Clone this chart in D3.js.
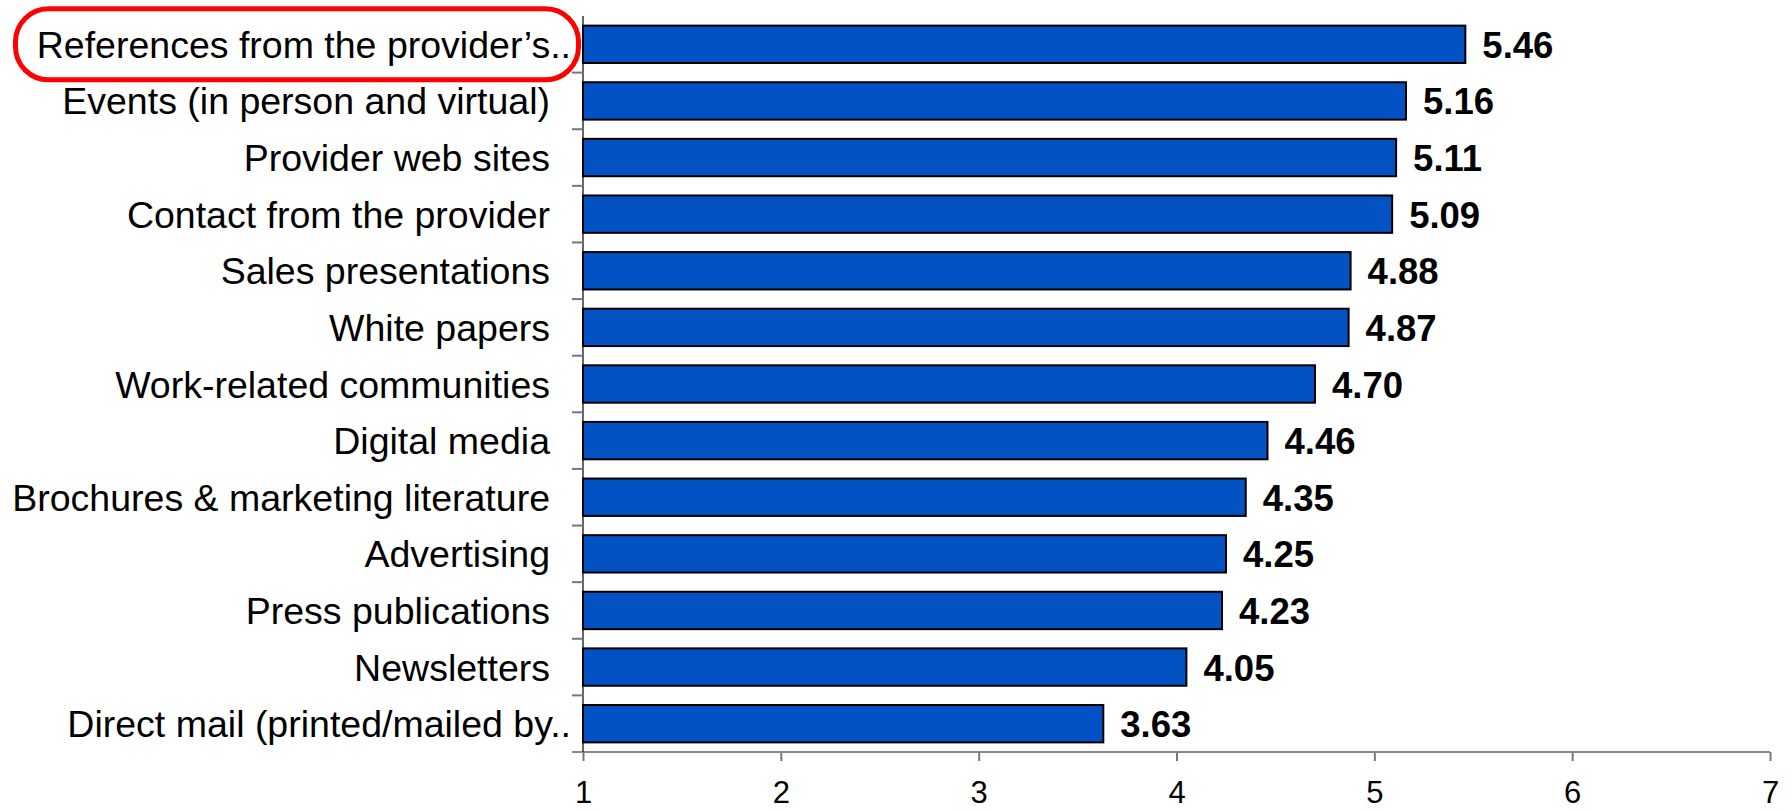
<!DOCTYPE html>
<html lang="en">

<head>
    <meta charset="UTF-8">
    <title>Source ratings</title>
    <style>
        body { margin: 0; background: #fff; }
        svg { display: block; font-family: 'Liberation Sans', Arial, sans-serif; }
    </style>
</head>

<body>
    <script src="https://cdn.jsdelivr.net/npm/d3@7"></script>
    <script>
        const svg_w = 1791;
        const svg_h = 811;

        const categories = [
            'References from the provider’s..',
            'Events (in person and virtual)',
            'Provider web sites',
            'Contact from the provider',
            'Sales presentations',
            'White papers',
            'Work-related communities',
            'Digital media',
            'Brochures & marketing literature',
            'Advertising',
            'Press publications',
            'Newsletters',
            'Direct mail (printed/mailed by..'
        ];
        const scores = [5.46, 5.16, 5.11, 5.09, 4.88, 4.87, 4.70, 4.46, 4.35, 4.25, 4.23, 4.05, 3.63];
        const x_ticks = [1, 2, 3, 4, 5, 6, 7];
        const highlighted = 'References from the provider’s..';

        const rows = categories.map((c, i) => ({ cat: c, val: scores[i] }));

        const svg = d3.select('body')
            .append('svg')
            .attr('width', svg_w)
            .attr('height', svg_h);

        const x = d3.scaleLinear().domain([1, 7]).range([583, 1770]);
        const y = d3.scaleBand()
            .domain(categories)
            .range([16, 752])
            .paddingInner(0.34)
            .paddingOuter(0.17);

        // x axis
        const xAxis = svg.append('g')
            .attr('transform', `translate(0,${y.range()[1]})`)
            .call(d3.axisBottom(x).tickValues(x_ticks).tickSize(9).tickSizeOuter(0).tickPadding(20).tickFormat(d3.format('d')));
        xAxis.select('.domain').remove();
        xAxis.selectAll('.tick line').attr('stroke', '#777').attr('stroke-width', 2);
        xAxis.selectAll('.tick text')
            .attr('font-size', '31px')
            .attr('fill', '#000')
            .attr('font-family', "'Liberation Sans', Arial, sans-serif");
        svg.append('line')
            .attr('x1', x(1) - 11).attr('x2', x(7))
            .attr('y1', y.range()[1]).attr('y2', y.range()[1])
            .attr('stroke', '#888').attr('stroke-width', 2);

        // y axis line and ticks between categories
        const gap = (y.step() - y.bandwidth()) / 2;
        svg.append('line')
            .attr('x1', x(1)).attr('x2', x(1))
            .attr('y1', y.range()[0]).attr('y2', y.range()[1])
            .attr('stroke', '#333').attr('stroke-width', 1.5);
        svg.selectAll('.ytick')
            .data(categories.slice(1))
            .enter()
            .append('line')
            .attr('class', 'ytick')
            .attr('x1', x(1) - 11).attr('x2', x(1))
            .attr('y1', d => y(d) - gap).attr('y2', d => y(d) - gap)
            .attr('stroke', '#777').attr('stroke-width', 2);

        // category labels
        svg.selectAll('.cat')
            .data(rows)
            .enter()
            .append('text')
            .attr('class', 'cat')
            .text(d => d.cat)
            .attr('x', d => d.cat.endsWith('..') ? x(1) - 12 : x(1) - 33)
            .attr('y', d => y(d.cat) + y.bandwidth() / 2)
            .attr('dy', '0.36em')
            .attr('text-anchor', 'end')
            .attr('font-size', '37.5px')
            .attr('fill', '#000');

        // bars
        svg.selectAll('.bar')
            .data(rows)
            .enter()
            .append('rect')
            .attr('class', 'bar')
            .attr('x', x(1))
            .attr('y', d => y(d.cat))
            .attr('width', d => x(d.val) - x(1))
            .attr('height', y.bandwidth())
            .attr('fill', '#0252c4')
            .attr('stroke', '#000')
            .attr('stroke-width', 2);

        // value labels
        svg.selectAll('.val')
            .data(rows)
            .enter()
            .append('text')
            .attr('class', 'val')
            .text(d => d.val.toFixed(2))
            .attr('x', d => x(d.val) + 17)
            .attr('y', d => y(d.cat) + y.bandwidth() / 2)
            .attr('dy', '0.37em')
            .attr('font-size', '36.5px')
            .attr('font-weight', 'bold')
            .attr('fill', '#000');

        // red highlight round the first label
        const hy = y(highlighted) + y.bandwidth() / 2;
        svg.append('rect')
            .attr('x', 15.5)
            .attr('y', hy - 35.5)
            .attr('width', 563)
            .attr('height', 71)
            .attr('rx', 33)
            .attr('fill', 'none')
            .attr('stroke', '#f00')
            .attr('stroke-width', 5);
    </script>
</body>

</html>
